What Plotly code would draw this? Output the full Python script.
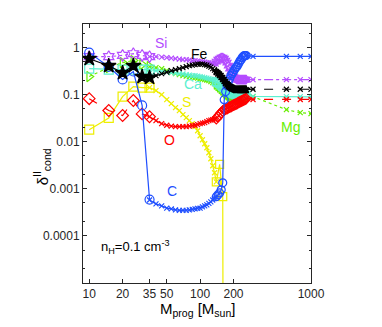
"""
Depletion of gas-phase elements (delta II cond) against progenitor mass.
"""

import math

import plotly.graph_objects as go

# progenitor masses for each part of the curves
m_ccsn = [10, 15, 20, 25, 30, 35]
m_mid = [35, 40, 45, 50, 55, 60, 65, 70, 75, 80, 85, 90, 95, 100, 105,
         110, 115, 120, 125, 130, 135, 140]
m_pisn = [140, 145, 150, 155, 160, 165, 170, 175, 180, 185, 190, 195, 200,
          205, 210, 215, 220, 225, 230, 235, 240, 245, 250, 255, 260]
m_tail = [260, 300, 600, 800, 1000]
m_s_pisn = [140, 150, 160, 162]

# C
c_ccsn = [0.78, 0.39, 0.21, 0.31, 0.059, 0.00059]
c_mid = [5.8e-4, 4.8e-4, 4.35e-4, 3.9e-4, 3.75e-4, 3.57e-4, 3.49e-4, 3.49e-4,
         3.49e-4, 3.57e-4, 3.65e-4, 3.75e-4, 3.85e-4, 3.9e-4, 4.14e-4, 4.35e-4,
         4.57e-4, 4.9e-4, 5.3e-4, 5.8e-4, 6.3e-4, 6.8e-4]
c_pisn = [6.8e-4, 7.45e-4, 8.2e-4, 9.5e-4, 1.34e-3, 0.078, 0.116, 0.155,
          0.189, 0.219, 0.254, 0.280, 0.309, 0.340, 0.375, 0.394, 0.435,
          0.480, 0.529, 0.556, 0.613, 0.644, 0.676, 0.676, 0.676]
c_tail = [0.676, 0.65, 0.65, 0.65, 0.65]

# O
o_ccsn = [0.082, 0.046, 0.036, 0.075, 0.039, 0.034]
o_mid = [0.034, 0.028, 0.0242, 0.0224, 0.0214, 0.0209, 0.0209, 0.0209,
         0.0209, 0.0214, 0.0219, 0.0224, 0.023, 0.0242, 0.0248, 0.0254,
         0.0267, 0.028, 0.0287, 0.0294, 0.0301, 0.0309]
o_pisn = [0.0309, 0.034, 0.0375, 0.0414, 0.0446, 0.048, 0.0491, 0.0504,
          0.0529, 0.0542, 0.0556, 0.0583, 0.0598, 0.0613, 0.0628, 0.0644,
          0.0676, 0.0693, 0.071, 0.0727, 0.0745, 0.0764, 0.0783, 0.0802,
          0.0822]
o_tail = [0.0822, 0.079, 0.079, 0.079, 0.079]

# S
s_ccsn = [0.018, 0.032, 0.091, 0.148, 0.141, 0.141]
s_mid = [0.141, 0.122, 0.1, 0.0783, 0.0644, 0.0529, 0.0457, 0.0375, 0.0324,
         0.028, 0.0242, 0.0209, 0.0171, 0.0134, 0.011, 0.00906, 0.00745,
         0.00583, 0.00435, 0.00309, 0.00219, 0.0014]
s_pisn = [0.0014, 0.0033, 0.00068, 1e-9]

# Si
si_ccsn = [0.64, 0.64, 0.68, 0.74, 0.68, 0.64]
si_mid = [0.644, 0.644, 0.628, 0.613, 0.598, 0.583, 0.569, 0.556, 0.556,
          0.542, 0.529, 0.529, 0.516, 0.504, 0.504, 0.491, 0.480, 0.480,
          0.468, 0.457, 0.457, 0.446]
si_pisn = [0.504, 0.556, 0.583, 0.613, 0.613, 0.583, 0.529, 0.480, 0.414,
           0.357, 0.309, 0.267, 0.242, 0.230, 0.219, 0.209, 0.209, 0.209,
           0.209, 0.209, 0.209, 0.209, 0.209, 0.209, 0.209]
si_tail = [0.209, 0.209, 0.209, 0.209, 0.209]

# Fe
fe_ccsn = [0.58, 0.41, 0.29, 0.41, 0.24, 0.23]
fe_mid = [0.23, 0.254, 0.28, 0.301, 0.324, 0.34, 0.357, 0.375, 0.394, 0.414,
          0.424, 0.435, 0.446, 0.446, 0.446, 0.435, 0.424, 0.404, 0.385,
          0.357, 0.332, 0.309]
fe_pisn = [0.309, 0.287, 0.267, 0.242, 0.219, 0.199, 0.180, 0.167, 0.155,
           0.148, 0.141, 0.137, 0.134, 0.131, 0.128, 0.128, 0.128, 0.128,
           0.128, 0.128, 0.128, 0.128, 0.128, 0.128, 0.128]
fe_tail = [0.128, 0.13, 0.13, 0.13, 0.13]

# Ca
ca_ccsn = [0.357, 0.34, 0.34, 0.34, 0.34, 0.34]
ca_mid = [0.340, 0.324, 0.309, 0.301, 0.294, 0.287, 0.280, 0.274, 0.267,
          0.260, 0.254, 0.254, 0.248, 0.242, 0.236, 0.230, 0.224, 0.219,
          0.214, 0.209, 0.199, 0.189]
ca_pisn = [0.189, 0.180, 0.171, 0.159, 0.148, 0.141, 0.134, 0.128, 0.122,
           0.116, 0.110, 0.108, 0.105, 0.102, 0.100, 0.0975, 0.0975, 0.0975,
           0.0975, 0.0975, 0.0975, 0.0975, 0.0975, 0.0975, 0.095]
ca_tail = [0.095, 0.092, 0.091, 0.091, 0.09]

# Mg
mg_ccsn = [0.242, 0.375, 0.48, 0.529, 0.435, 0.394]
mg_mid = [0.394, 0.375, 0.357, 0.324, 0.294, 0.280, 0.267, 0.254, 0.248,
          0.242, 0.236, 0.230, 0.224, 0.219, 0.214, 0.209, 0.204, 0.199,
          0.189, 0.180, 0.171, 0.163]
mg_pisn = [0.163, 0.151, 0.141, 0.131, 0.122, 0.113, 0.105, 0.100, 0.0952,
           0.0906, 0.0863, 0.0842, 0.0822, 0.0802, 0.0783, 0.0783, 0.0783,
           0.0783, 0.0783, 0.0783, 0.0783, 0.0783, 0.0783, 0.0783, 0.0822]
mg_tail = [0.0822, 0.0906, 0.048, 0.0414, 0.0394]

FONT = 'Liberation Sans, Arial, sans-serif'
AXIS_COLOR = '#262626'


def add_segment(fig, x, y, color, symbol, size, dash, width=1.2):
    """Add one part of an element curve."""
    fig.add_trace(go.Scatter(
        x=x, y=y, mode='lines+markers',
        line=dict(color=color, width=width, dash=dash),
        marker=dict(symbol=symbol, size=size, color=color,
                    line=dict(color=color, width=1.2)),
        showlegend=False, hoverinfo='skip'))


def add_element(fig, data, color, symbol, ccsn_dash, mid_dash, tail_dash,
                size=9, pisn_size=8):
    ccsn, mid, pisn, tail, m_p = data
    add_segment(fig, m_ccsn, ccsn, color, symbol, size, ccsn_dash)
    add_segment(fig, m_mid[:len(mid)], mid, color, 'x-thin-open', 5, mid_dash)
    add_segment(fig, m_p, pisn, color, symbol, pisn_size, mid_dash)
    if tail is not None:
        add_segment(fig, m_tail, tail, color, 'x-thin-open', 5, tail_dash)


def build_figure():
    fig = go.Figure()

    add_element(fig, (mg_ccsn, mg_mid, mg_pisn, mg_tail, m_pisn), '#66ee00',
                'triangle-right-open', 'dot', 'dot', 'dot')
    add_element(fig, (ca_ccsn, ca_mid, ca_pisn, ca_tail, m_pisn), '#5cf0d0',
                'square-open', 'solid', 'solid', 'solid')
    add_element(fig, (si_ccsn, si_mid, si_pisn, si_tail, m_pisn), '#b44cff',
                'hexagram-open', 'dot', 'dot', 'dashdot', pisn_size=7)
    add_element(fig, (s_ccsn, s_mid, s_pisn, None, m_s_pisn), '#eeee00',
                'square-open', 'solid', 'solid', 'solid')
    add_element(fig, (o_ccsn, o_mid, o_pisn, o_tail, m_pisn), '#ff0000',
                'diamond-open', 'dash', 'solid', 'dash')
    add_element(fig, (c_ccsn, c_mid, c_pisn, c_tail, m_pisn), '#1f4fff',
                'circle-open', 'solid', 'solid', 'solid')
    add_element(fig, (fe_ccsn, fe_mid, fe_pisn, fe_tail, m_pisn), '#000000',
                'star', 'solid', 'solid', 'dash', size=11, pisn_size=6)

    # element names next to the curves (log axes take log10 positions)
    labels = [('Si', 44, 1.25, '#b44cff'), ('Fe', 98, 0.72, '#000000'),
              ('Ca', 86, 0.17, '#5cf0d0'), ('S', 76, 0.07, '#eeee00'),
              ('O', 53, 0.011, '#ff0000'), ('C', 56, 9e-4, '#1f4fff'),
              ('Mg', 660, 0.021, '#66ee00')]
    annotations = [dict(text=t, x=math.log10(x), y=math.log10(y),
                        xref='x', yref='y', showarrow=False,
                        font=dict(family=FONT, size=14, color=c))
                   for t, x, y, c in labels]
    annotations += [
        dict(text='n<sub>H</sub>=0.1 cm<sup>-3</sup>', x=0.07, y=0.095,
             xref='paper', yref='paper', xanchor='left', showarrow=False,
             font=dict(family=FONT, size=13, color='#000000')),
        dict(text='M<sub>prog</sub> [M<sub>sun</sub>]', x=0.5, y=-0.104,
             xref='paper', yref='paper', yanchor='middle', showarrow=False,
             font=dict(family=FONT, size=15, color='#000000')),
        dict(text='δ<sup>II</sup><sub>cond</sub>', x=-0.235, y=0.45,
             xref='paper', yref='paper', textangle=-90, showarrow=False,
             font=dict(family=FONT, size=15, color='#000000')),
    ]

    axis_style = dict(type='log', showgrid=False, zeroline=False,
                      showline=True, linecolor=AXIS_COLOR, linewidth=1,
                      mirror='allticks', ticks='inside', ticklen=4,
                      tickcolor=AXIS_COLOR, automargin=False,
                      tickfont=dict(family=FONT, size=12, color=AXIS_COLOR))

    # the page adds an 8 px body margin, so the figure is a bit smaller
    fig.update_layout(
        width=366, height=311,
        margin=dict(l=75, r=63, t=16, b=36),
        paper_bgcolor='white', plot_bgcolor='white',
        font=dict(family=FONT),
        xaxis=dict(axis_style, range=[0.944, 3],
                   tickvals=[10, 20, 35, 50, 100, 200, 1000],
                   ticktext=['10', '20', '35', '50', '100', '200', '1000']),
        yaxis=dict(axis_style, range=[-5, 0.5],
                   tickvals=[1e-4, 1e-3, 1e-2, 0.1, 1],
                   ticktext=['0.0001', '0.001', '0.01', '0.1', '1'],
                   minor=dict(ticks='inside', ticklen=2, tickcolor=AXIS_COLOR,
                              showgrid=False)),
        annotations=annotations)
    return fig


fig = build_figure()
fig.write_html("out.html")
